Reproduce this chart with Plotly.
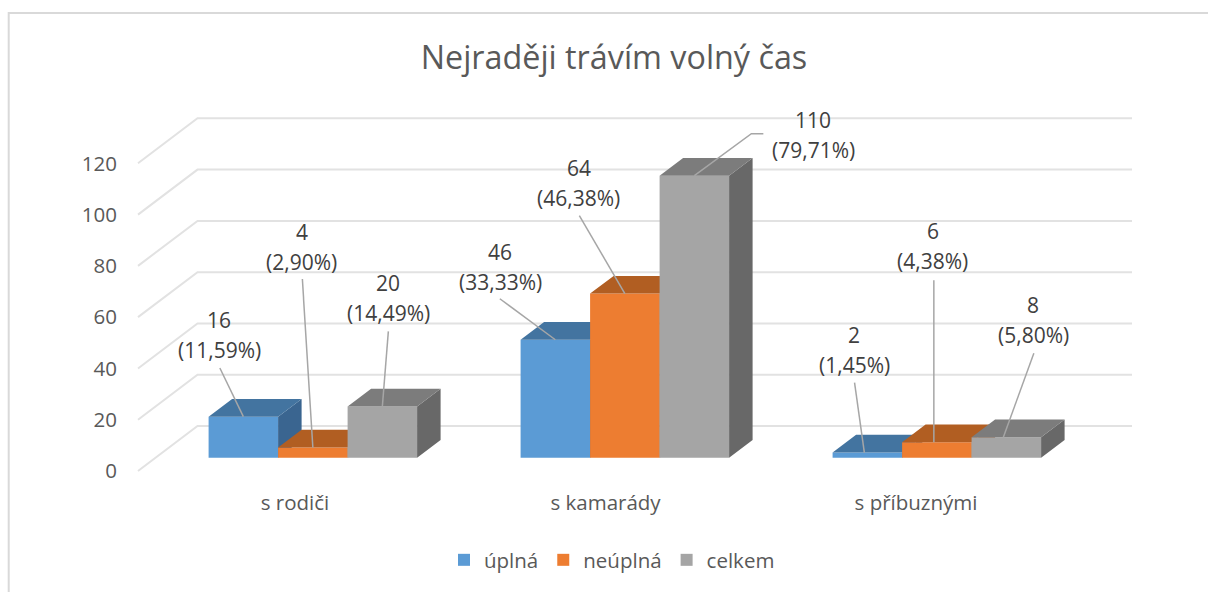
import plotly.graph_objects as go

W, H = 1208, 592

categories = ["s rodiči", "s kamarády", "s příbuznými"]
series_names = ["úplná", "neúplná", "celkem"]
uplna = [16, 46, 2]
neuplna = [4, 64, 6]
celkem = [20, 110, 8]
uplna_pct = ["11,59%", "33,33%", "1,45%"]
neuplna_pct = ["2,90%", "46,38%", "4,38%"]
celkem_pct = ["14,49%", "79,71%", "5,80%"]
y_ticks = [0, 20, 40, 60, 80, 100, 120]

all_values = [uplna, neuplna, celkem]
all_pct = [uplna_pct, neuplna_pct, celkem_pct]

front_colors = ["#5B9BD5", "#ED7D31", "#A5A5A5"]
top_colors = ["#4374A0", "#B15E22", "#7C7C7C"]
side_colors = ["#3A6590", "#9A521E", "#686868"]

# pixel geometry of the fake 3D
PX_UNIT = 2.564       # px per value unit
PX_CAT = 312.0        # px between categories
BAR_W = 69.5 / PX_CAT
DEPTH_X = 23.5 / PX_CAT
DEPTH_Y = 17.7 / PX_UNIT
BAR_ZERO = 457.7      # bars baseline
BAR_CENTER0 = 312.85  # center of first group
FLOOR_ZERO = 471.0    # front edge of floor, also where the tick labels sit
LABEL_CENTER0 = 295.0
LABEL_CAT = 310.5
WALL_DX = 59.5 / PX_CAT
WALL_DY = 45.0 / PX_UNIT
WALL_END = (1132 - BAR_CENTER0) / PX_CAT
FLOOR_LEFT = (138 - BAR_CENTER0) / PX_CAT

# (dx, dy) of the percent line from the bar top, px; [category][series]
label_offsets = [
    [(-24, -67), (-11, -185), (6, -93)],
    [(-55, -58), (-46, -96), (119, -26)],
    [(-13, -88), (-4, -181), (27, -102)],
]
# leader paths from the bar top, px; [category][series]
leaders = [
    [[(-23.5, -48.7)], [(-10.5, -168.4)], [(6, -75)]],
    [[(-55.5, -41)], [(-45.5, -78)], [(57, -42), (69, -42)]],
    [[(-12.8, -70)], [(-3, -162)], [(27.5, -84)]],
]
leader_tip_dx = [0, 0, -3]
LABEL_LINE_GAP = 30


def y_range(zero_px):
    return [(zero_px - H) / PX_UNIT, zero_px / PX_UNIT]


x2_range = [-BAR_CENTER0 / PX_CAT, (W - BAR_CENTER0) / PX_CAT]

fig = go.Figure()

# back wall and floor lines
gx, gy = [], []
for t in y_ticks:
    gx += [FLOOR_LEFT, FLOOR_LEFT + WALL_DX, WALL_END, None]
    gy += [t, t + WALL_DY, t + WALL_DY, None]
fig.add_trace(go.Scatter(x=gx, y=gy, mode="lines", xaxis="x2", yaxis="y",
                         line=dict(color="#E2E2E2", width=2),
                         showlegend=False, hoverinfo="skip"))
# keeps the tick label axis alive
fig.add_trace(go.Scatter(x=[0, 1, 2], y=[0, 0, 0], mode="markers", xaxis="x", yaxis="y",
                         marker=dict(opacity=0), showlegend=False, hoverinfo="skip"))

for s, values in enumerate(all_values):
    ya = ["y2", "y3", "y4"][s]
    xs = [i + (s - 1) * BAR_W for i in range(len(categories))]
    fig.add_trace(go.Bar(x=xs, y=values, width=BAR_W, name=series_names[s], xaxis="x2", yaxis=ya,
                         marker=dict(color=front_colors[s], line_width=0),
                         hovertemplate="%{y}<extra></extra>"))
    tx, ty, sx, sy = [], [], [], []
    for x0, v in zip(xs, values):
        l, r = x0 - BAR_W / 2, x0 + BAR_W / 2
        tx += [l, r, r + DEPTH_X, l + DEPTH_X, l, None]
        ty += [v, v, v + DEPTH_Y, v + DEPTH_Y, v, None]
        sx += [r, r + DEPTH_X, r + DEPTH_X, r, r, None]
        sy += [0, DEPTH_Y, v + DEPTH_Y, v, 0, None]
    for px, py, col in [(sx, sy, side_colors[s]), (tx, ty, top_colors[s])]:
        fig.add_trace(go.Scatter(x=px, y=py, mode="lines", fill="toself", fillcolor=col,
                                 line=dict(width=0), xaxis="x2", yaxis=ya,
                                 showlegend=False, hoverinfo="skip"))

# leader lines, top of the stack
lx, ly = [], []
for s, values in enumerate(all_values):
    for i, v in enumerate(values):
        xc = i + (s - 1) * BAR_W
        lx += [xc + leader_tip_dx[i] / PX_CAT]
        ly += [v]
        for px, py in leaders[i][s]:
            lx += [xc + px / PX_CAT]
            ly += [v - py / PX_UNIT]
        lx += [None]
        ly += [None]
fig.add_trace(go.Scatter(x=lx, y=ly, mode="lines", xaxis="x2", yaxis="y4",
                         line=dict(color="#A6A6A6", width=1.5),
                         showlegend=False, hoverinfo="skip"))

annotations = []
label_font = dict(family="Open Sans", size=21, color="#404040")
for s, values in enumerate(all_values):
    for i, v in enumerate(values):
        dx, dy = label_offsets[i][s]
        xc = i + (s - 1) * BAR_W
        annotations.append(dict(x=xc, y=v, xref="x2", yref="y2", text=f"({all_pct[s][i]})",
                                xshift=dx, yshift=-dy, showarrow=False, font=label_font))
        annotations.append(dict(x=xc, y=v, xref="x2", yref="y2", text=str(v),
                                xshift=dx, yshift=-dy + LABEL_LINE_GAP, showarrow=False, font=label_font))

base_axis = dict(showgrid=False, zeroline=False, showline=False, ticks="")
tick_font = dict(family="Open Sans", size=20.5, color="#595959")

fig.update_layout(
    width=W, height=H,
    margin=dict(l=0, r=0, t=0, b=0),
    paper_bgcolor="white", plot_bgcolor="rgba(0,0,0,0)",
    barmode="overlay",
    title=dict(text="Nejraději trávím volný čas", x=614 / W, xanchor="center", y=1 - 58 / H, yanchor="middle",
               font=dict(family="Open Sans", size=32.3, color="#595959")),
    xaxis=dict(base_axis, domain=[0, 1], anchor="free", position=1 - 488 / H,
               range=[-LABEL_CENTER0 / LABEL_CAT, (W - LABEL_CENTER0) / LABEL_CAT],
               tickmode="array", tickvals=[0, 1, 2], ticktext=categories, tickfont=tick_font),
    xaxis2=dict(base_axis, overlaying="x", range=x2_range, visible=False),
    yaxis=dict(base_axis, domain=[0, 1], anchor="free", position=117 / W, range=y_range(FLOOR_ZERO),
               tickmode="array", tickvals=y_ticks, tickfont=tick_font),
    yaxis2=dict(base_axis, overlaying="y", range=y_range(BAR_ZERO), visible=False),
    yaxis3=dict(base_axis, overlaying="y", range=y_range(BAR_ZERO), visible=False),
    yaxis4=dict(base_axis, overlaying="y", range=y_range(BAR_ZERO), visible=False),
    legend=dict(orientation="h", x=612 / W, xanchor="center", y=1 - 560 / H, yanchor="middle",
                font=dict(family="Open Sans", size=20.5, color="#595959"), bgcolor="rgba(0,0,0,0)"),
    annotations=annotations,
    shapes=[
        dict(type="rect", xref="paper", yref="paper", x0=8.7 / W, x1=1.05, y0=-0.05, y1=1 - 13 / H,
             line=dict(color="#D9D9D9", width=2), layer="below"),
    ],
)

fig.write_html("out.html", config=dict(displayModeBar=False),
               post_script="document.body.style.margin='0';document.body.style.overflow='hidden';")
